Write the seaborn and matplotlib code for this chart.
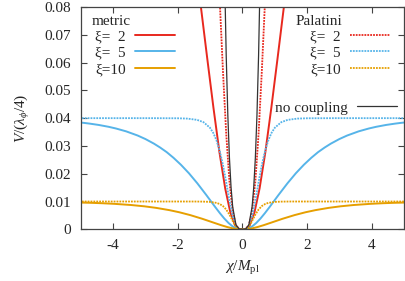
import numpy as np
import pandas as pd
import matplotlib
matplotlib.use('Agg')
import matplotlib.pyplot as plt
import seaborn as sns

### right half (chi >= 0) of every curve; the plot is symmetric in chi
### metric formalism
chi_met2 = [0, 0.103, 0.224, 0.368, 0.531, 0.710, 0.895, 1.083, 1.269, 1.360]
V_met2 = [0, 0.000096, 0.00137, 0.00582, 0.0147, 0.0278, 0.0438, 0.0612, 0.0788, 0.0873]
chi_met5 = [0, 0.053, 0.120, 0.205, 0.309, 0.428, 0.557, 0.693, 0.833, 0.975, 1.116,
            1.391, 1.652, 1.899, 2.129, 2.340, 2.546, 2.735, 2.996, 3.235, 3.592,
            3.907, 4.134, 4.442, 4.716, 4.884, 5.041]
V_met5 = [0, 0.000006, 0.000091, 0.000409, 0.00111, 0.00227, 0.00385, 0.00577, 0.0079,
          0.01013, 0.01235, 0.01653, 0.02017, 0.02322, 0.02573, 0.02778, 0.02946, 0.03084,
          0.03248, 0.03374, 0.03525, 0.03628, 0.03689, 0.03756, 0.03803, 0.03828, 0.03848]
chi_met10 = [0, 0.060, 0.160, 0.300, 0.469, 0.656, 0.851, 1.241, 1.610, 1.948, 2.257,
             2.668, 3.026, 3.443, 3.964, 4.331, 4.651, 4.989, 5.041]
V_met10 = [0, 0.000006, 0.000083, 0.000337, 0.000816, 0.001479, 0.002244, 0.003787, 0.005102,
           0.006125, 0.006897, 0.007716, 0.008264, 0.008743, 0.009167, 0.009378, 0.009518,
           0.009632, 0.009647]
### Palatini formalism
chi_pal2 = [0, 0.1, 0.2, 0.3, 0.4, 0.5, 0.6, 0.7, 0.75]
V_pal2 = [0, 0.0000975, 0.00144, 0.00643, 0.0172, 0.0344, 0.0568, 0.0822, 0.0954]
chi_pal5 = [0, 0.05, 0.1, 0.15, 0.2, 0.3, 0.4, 0.5, 0.6, 0.7, 0.8, 0.9, 1.0, 1.2, 1.4,
            1.7, 2.0, 3.0, 5.05]
V_pal5 = [0, 0.000006, 0.0000937, 0.000438, 0.00124, 0.0047, 0.01036, 0.01695, 0.02313,
          0.02817, 0.0320, 0.03469, 0.03653, 0.03854, 0.03939, 0.03984, 0.03996, 0.04, 0.04]
chi_pal10 = [0, 0.05, 0.1, 0.15, 0.2, 0.3, 0.4, 0.5, 0.6, 0.7, 0.8, 1.0, 1.2, 1.5, 5.05]
V_pal10 = [0, 0.000006, 0.0000878, 0.00038, 0.00098, 0.00299, 0.00528, 0.00712, 0.00835,
           0.00909, 0.00951, 0.00986, 0.00996, 0.01, 0.01]
### no coupling
chi_free = [0, 0.1, 0.2, 0.3, 0.35, 0.4, 0.45, 0.5, 0.55]
V_free = [0, 0.0001, 0.0016, 0.0081, 0.0150, 0.0256, 0.0410, 0.0625, 0.0915]

curve_names = ['met2', 'met5', 'met10', 'pal2', 'pal5', 'pal10', 'free']
curve_chi = [chi_met2, chi_met5, chi_met10, chi_pal2, chi_pal5, chi_pal10, chi_free]
curve_V = [V_met2, V_met5, V_met10, V_pal2, V_pal5, V_pal10, V_free]
### \u2007 = figure space, so "ξ= 2" lines up with "ξ=10"
labels = {'met2': 'ξ=\u20072', 'met5': 'ξ=\u20075', 'met10': 'ξ=10',
          'pal2': 'ξ=\u20072', 'pal5': 'ξ=\u20075', 'pal10': 'ξ=10', 'free': 'no coupling'}

red, blue, orange = '#e8281e', '#56b4e9', '#e69f00'
styles = {'met2': (red, '-', 1.4), 'met5': (blue, '-', 1.4), 'met10': (orange, '-', 1.4),
          'pal2': (red, (0, (1, 0.6)), 1.3), 'pal5': (blue, (0, (1, 0.6)), 1.3),
          'pal10': (orange, (0, (1, 0.6)), 1.3), 'free': ('#333333', '-', 0.9)}

### mirror every half curve to negative chi
frames = []
for name, x, y in zip(curve_names, curve_chi, curve_V):
    x, y = np.array(x), np.array(y)
    xx = np.concatenate([-x[:0:-1], x])
    yy = np.concatenate([y[:0:-1], y])
    frames.append(pd.DataFrame({'chi': xx, 'V': yy, 'curve': name}))
df = pd.concat(frames, ignore_index=True)

sns.set_style('ticks')
plt.rcParams['font.family'] = ['Liberation Serif', 'DejaVu Serif']
plt.rcParams['mathtext.fontset'] = 'custom'
plt.rcParams['mathtext.rm'] = 'Liberation Serif'
plt.rcParams['mathtext.it'] = 'Liberation Serif:italic'
plt.rcParams['axes.unicode_minus'] = False

fs = 11
fig = plt.figure(figsize=(4.05, 2.81), dpi=100)
ax = fig.add_axes([0.199, 0.184, 0.799, 0.791])

handles = {}
for name in curve_names:
    color, ls, lw = styles[name]
    sns.lineplot(data=df[df['curve'] == name], x='chi', y='V', color=color, linestyle=ls,
                 linewidth=lw, estimator=None, sort=False, ax=ax)
    handles[name] = ax.get_lines()[-1]

ax.set_xlim(-5, 5)
ax.set_ylim(0, 0.08)
ax.set_xticks([-4, -2, 0, 2, 4])
ax.set_yticks(np.arange(0, 0.081, 0.01))
ax.set_yticklabels(['0', '0.01', '0.02', '0.03', '0.04', '0.05', '0.06', '0.07', '0.08'])
ax.tick_params(direction='in', top=True, right=True, length=4, width=0.8,
               labelsize=fs, color='#444444', pad=7)
for sp in ax.spines.values():
    sp.set_color('#444444')
    sp.set_linewidth(0.9)
ax.set_xlabel(r'$\chi/M_\mathrm{pl}$', fontsize=fs, labelpad=5)
ax.set_ylabel(r'$V/(\lambda_\phi/4)$', fontsize=fs, labelpad=9)

### legend titles as plain text, entries as legends (text first, sample after)
ax.text(0.033, 0.934, 'metric', transform=ax.transAxes, fontsize=fs, va='center', ha='left')
ax.text(0.665, 0.934, 'Palatini', transform=ax.transAxes, fontsize=fs, va='center', ha='left')

leg_kw = dict(frameon=False, fontsize=fs, markerfirst=False, handlelength=2.6,
              handletextpad=0.6, labelspacing=0.18, borderpad=0.0, borderaxespad=0.0)
leg1 = ax.legend([handles[n] for n in ['met2', 'met5', 'met10']],
                 [labels[n] for n in ['met2', 'met5', 'met10']],
                 loc='upper left', bbox_to_anchor=(0.045, 0.899), **leg_kw)
ax.add_artist(leg1)
leg2 = ax.legend([handles[n] for n in ['pal2', 'pal5', 'pal10']],
                 [labels[n] for n in ['pal2', 'pal5', 'pal10']],
                 loc='upper right', bbox_to_anchor=(0.955, 0.899), **leg_kw)
ax.add_artist(leg2)
leg3 = ax.legend([handles['free']], [labels['free']], loc='upper right',
                 bbox_to_anchor=(0.977, 0.578), **leg_kw)

fig.savefig('out.png', dpi=100)
